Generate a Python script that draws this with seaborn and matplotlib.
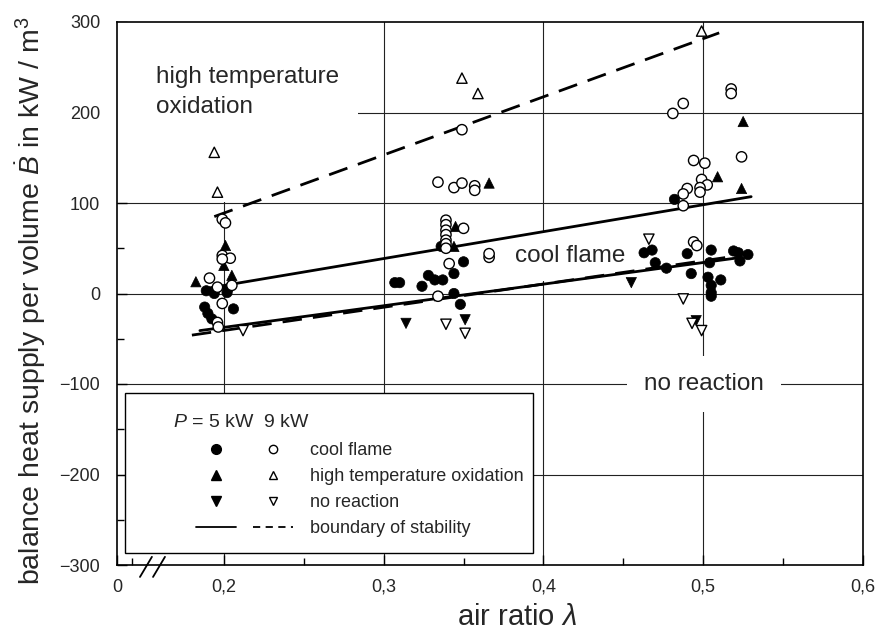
import numpy as np
import pandas as pd
import seaborn as sns
import matplotlib
matplotlib.use("Agg")
from matplotlib import pyplot as plt, ticker
from matplotlib.lines import Line2D
from matplotlib.patches import Rectangle

# ---- data (air ratio lambda, heat supply B in kW/m3) ----
# P = 5 kW (filled markers)
cool5_lam = [0.189, 0.194, 0.202, 0.2025, 0.188, 0.190, 0.206, 0.1925,
             0.307, 0.310, 0.324, 0.328, 0.332, 0.337, 0.344, 0.344, 0.348, 0.336, 0.350,
             0.482, 0.463, 0.468, 0.470, 0.477, 0.490, 0.4925, 0.505, 0.504, 0.503,
             0.505, 0.505, 0.505, 0.511, 0.519, 0.522, 0.528, 0.523]
cool5_B = [3, 0, 1, 5, -15, -22, -17, -28,
           12, 12, 8, 20, 15, 15, 22, 0, -12, 52, 35,
           104, 45, 48, 34, 28, 44, 22, 48, 34, 18,
           9, 1, -3, 15, 47, 45, 43, 36]
hto5_lam = [0.1825, 0.201, 0.200, 0.205, 0.366, 0.345, 0.344, 0.525, 0.509, 0.524]
hto5_B = [13, 53, 31, 20, 122, 74, 52, 190, 129, 116]
nor5_lam = [0.314, 0.351, 0.455, 0.4956]
nor5_B = [-33, -29, 12, -30]

# P = 9 kW (open markers)
cool9_lam = [0.199, 0.201, 0.199, 0.204, 0.199, 0.191, 0.196, 0.205, 0.199, 0.196, 0.1965,
             0.349, 0.334, 0.344, 0.349, 0.357, 0.357, 0.339, 0.339, 0.339, 0.339, 0.339,
             0.339, 0.350, 0.339, 0.341, 0.366, 0.366, 0.334,
             0.5175, 0.5175, 0.481, 0.4875, 0.524, 0.494, 0.501, 0.499, 0.5025, 0.498,
             0.498, 0.490, 0.4875, 0.4875, 0.494, 0.496]
cool9_B = [82, 78, 42, 39, 38, 17, 7, 9, -11, -32, -37,
           181, 123, 117, 122, 119, 114, 81, 76, 70, 65, 59,
           55, 72, 50, 33, 40, 44, -3,
           226, 221, 199, 210, 151, 147, 144, 126, 120, 117,
           112, 116, 110, 97, 57, 53]
hto9_lam = [0.194, 0.196, 0.349, 0.359, 0.499]
hto9_B = [156, 112, 238, 221, 290]
nor9_lam = [0.212, 0.339, 0.351, 0.466, 0.4875, 0.493, 0.499]
nor9_B = [-41, -34, -44, 60, -6, -33, -41]

# boundaries of stability (end points)
upper5_lam, upper5_B = [0.187, 0.530], [5, 107]
lower5_lam, lower5_B = [0.185, 0.520], [-41, 39]
upper9_lam, upper9_B = [0.194, 0.510], [85, 288]
lower9_lam, lower9_B = [0.180, 0.515], [-46, 40]

regimes = ["cool flame", "high temperature oxidation", "no reaction"]
xtick_vals = [0.2, 0.3, 0.4, 0.5, 0.6]
xtick_text = ["0,2", "0,3", "0,4", "0,5", "0,6"]


def frame(lam, B, power, regime):
    return pd.DataFrame({"lam": lam, "B": B, "power": power, "regime": regime})


df = pd.concat([
    frame(cool5_lam, cool5_B, "5 kW", regimes[0]),
    frame(hto5_lam, hto5_B, "5 kW", regimes[1]),
    frame(nor5_lam, nor5_B, "5 kW", regimes[2]),
    frame(cool9_lam, cool9_B, "9 kW", regimes[0]),
    frame(hto9_lam, hto9_B, "9 kW", regimes[1]),
    frame(nor9_lam, nor9_B, "9 kW", regimes[2]),
], ignore_index=True)
markers = {regimes[0]: "o", regimes[1]: "^", regimes[2]: "v"}

# ---- style ----
sns.set_theme(style="white")
plt.rcParams["font.family"] = ["Liberation Sans", "DejaVu Sans"]
plt.rcParams["mathtext.fontset"] = "custom"
plt.rcParams["mathtext.rm"] = "Liberation Sans"
plt.rcParams["mathtext.it"] = "Liberation Sans:italic"
plt.rcParams["axes.unicode_minus"] = True

fig = plt.figure(figsize=(8.83, 6.37), dpi=100)
ax = fig.add_axes([117 / 883, 72 / 637, 746 / 883, 543 / 637])

xmin = 0.2 - 107 / 1600
ax.set_xlim(xmin, 0.6)
ax.set_ylim(-300, 300)

# gridlines (drawn by hand so the text masks can sit on top of them)
for xv in xtick_vals[:-1]:
    ax.axvline(xv, color="#222222", lw=0.8, zorder=0.5)
for yv in range(-200, 300, 100):
    ax.axhline(yv, color="#222222", lw=0.8, zorder=0.5)

# white masks behind the region labels
ax.add_patch(Rectangle((xmin, 101), 0.284 - xmin, 199, facecolor="white",
                       edgecolor="none", zorder=1))
ax.text(0.1575, 251, "high temperature\noxidation", fontsize=17.5,
        linespacing=1.45, va="top", ha="left", zorder=2)
ax.text(0.3825, 41, "cool flame", fontsize=17.5, va="center", ha="left", zorder=2,
        bbox=dict(boxstyle="square,pad=0.55", facecolor="white", edgecolor="none"))
ax.text(0.463, -100, "no reaction", fontsize=17.5, va="center", ha="left", zorder=2,
        bbox=dict(boxstyle="square,pad=0.7", facecolor="white", edgecolor="none"))

# boundaries of stability
sns.lineplot(x=upper5_lam, y=upper5_B, color="black", lw=2.0, ax=ax, zorder=3)
sns.lineplot(x=lower5_lam, y=lower5_B, color="black", lw=2.0, ax=ax, zorder=3)
sns.lineplot(x=upper9_lam, y=upper9_B, color="black", lw=2.0, ax=ax, zorder=3,
             linestyle=(0, (7, 4)))
sns.lineplot(x=lower9_lam, y=lower9_B, color="black", lw=2.0, ax=ax, zorder=3,
             linestyle=(0, (7, 4)))

# measurements
sns.scatterplot(data=df[df["power"] == "5 kW"], x="lam", y="B", style="regime",
                markers=markers, color="black", edgecolor="black", s=55,
                linewidth=0.5, legend=False, ax=ax, zorder=4)
sns.scatterplot(data=df[df["power"] == "9 kW"], x="lam", y="B", style="regime",
                markers=markers, color="white", edgecolor="black", s=55,
                linewidth=1.0, legend=False, ax=ax, zorder=4)

# axes, ticks
ax.set_xticks([xmin] + xtick_vals)
ax.set_xticklabels(["0"] + xtick_text)
ax.set_xticks([0.1425, 0.25, 0.35, 0.45, 0.55], minor=True)
ax.yaxis.set_major_locator(ticker.MultipleLocator(100))
ax.yaxis.set_minor_locator(ticker.MultipleLocator(50))
ax.tick_params(which="both", direction="in", labelsize=13, color="black",
               width=1.0, bottom=True, left=True, top=False, right=False)
ax.tick_params(which="major", length=7)
ax.tick_params(which="minor", length=5)
ax.tick_params(axis="x", pad=10)
ax.tick_params(axis="y", pad=12)
for sp in ax.spines.values():
    sp.set_color("black")
    sp.set_linewidth(1.2)

ax.set_xlabel(r"air ratio $\lambda$", fontsize=21)
ax.xaxis.set_label_coords((517 - 117) / 746, -0.07)
ax.set_ylabel(r"balance heat supply per volume $\dot{B}$ in kW / m$^3$", fontsize=20.5)
ax.yaxis.set_label_coords(-0.0925, 0.486)

# axis break marks
for x0 in (0.0308, 0.0483):
    ax.plot([x0, x0 + 0.016], [-0.022, 0.015], color="black", lw=1.3,
            transform=ax.transAxes, clip_on=False, zorder=5)

# legend box
ax.add_patch(Rectangle((0.0107, 0.0221), 0.547, 0.2947, transform=ax.transAxes,
                       facecolor="white", edgecolor="black", lw=1.0, zorder=1))
ax.text(0.075, 0.263, r"$P$ = 5 kW  9 kW", fontsize=14, va="center", ha="left",
        transform=ax.transAxes, zorder=2)
h5 = [Line2D([], [], ls="none", marker=markers[r], color="black", markersize=7)
      for r in regimes]
h9 = [Line2D([], [], ls="none", marker=markers[r], markerfacecolor="white",
             markeredgecolor="black", markeredgewidth=1.0, markersize=6) for r in regimes]
h5.append(Line2D([], [], color="black", lw=1.3))
h9.append(Line2D([], [], color="black", lw=1.3, ls=(0, (4, 3))))
leg = ax.legend(h5 + h9, ["", "", "", ""] + regimes + ["boundary of stability"],
                ncol=2, loc="upper left", bbox_to_anchor=(0.1059, 0.226),
                frameon=False, borderpad=0, borderaxespad=0, handlelength=2.2,
                handletextpad=0.97, columnspacing=0, labelspacing=0.5, fontsize=13)
leg.set_zorder(6)

fig.savefig("out.png", dpi=100)
